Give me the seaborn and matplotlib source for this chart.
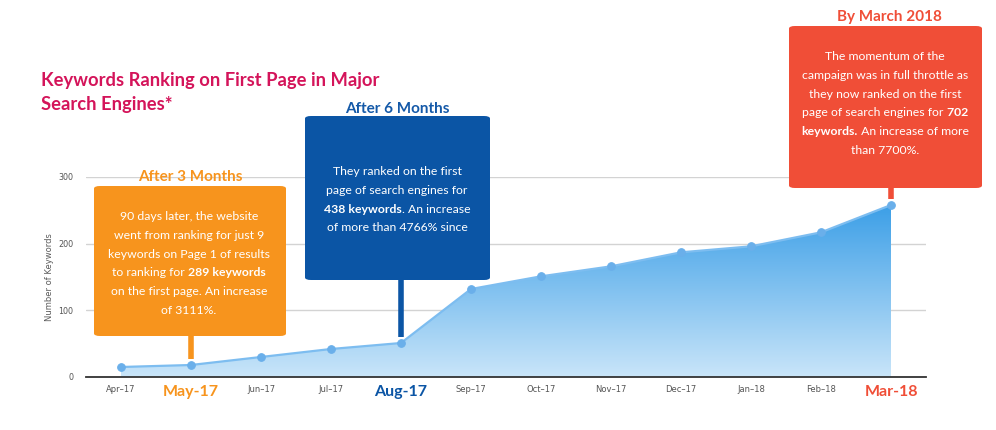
import numpy as np
import pandas as pd
import matplotlib
matplotlib.use("Agg")
import matplotlib.pyplot as plt
import seaborn as sns
from matplotlib.patches import FancyBboxPatch
from matplotlib.colors import LinearSegmentedColormap

# ---- data ----
months = ["Apr–17", "May–17", "Jun–17", "Jul–17", "Aug–17", "Sep–17",
          "Oct–17", "Nov–17", "Dec–17", "Jan–18", "Feb–18", "Mar–18"]
keywords = [15, 18, 30, 42, 51, 132, 151, 166, 187, 196, 217, 258]
yticks = [0, 100, 200, 300]

# highlighted months (tick label text, colour)
highlight_idx = [1, 4, 11]
highlight_text = ["May-17", "Aug-17", "Mar-18"]
highlight_color = ["#F7941D", "#0B55A5", "#F04E37"]

# callout titles and body text: each line is a list of (text, bold) pieces
callout_titles = ["After 3 Months", "After 6 Months", "By March 2018"]
callout_title_color = ["#F7941D", "#1459A8", "#F04E37"]
callout_lines = [
    [[("90 days later, the website", False)],
     [("went from ranking for just 9", False)],
     [("keywords on Page 1 of results", False)],
     [("to ranking for", False), (" 289 keywords", True)],
     [("on the first page. An increase", False)],
     [("of 3111%.", False)]],
    [[("They ranked on the first", False)],
     [("page of search engines for", False)],
     [("438 keywords", True), (". An increase", False)],
     [("of more than 4766% since", False)]],
    [[("The momentum of the", False)],
     [("campaign was in full throttle as", False)],
     [("they now ranked on the first", False)],
     [("page of search engines for", False), (" 702", True)],
     [("keywords.", True), (" An increase of more", False)],
     [("than 7700%.", False)]],
]

W, H = 996, 430

sns.set_theme(style="white")
plt.rcParams["font.family"] = ["DejaVu Sans"]

fig = plt.figure(figsize=(W / 100, H / 100), dpi=100)
fig.patch.set_facecolor("white")
ax = fig.add_axes([86 / W, 53 / H, 840 / W, 200 / H])

df = pd.DataFrame({"x": np.arange(len(months)), "keywords": keywords})

# gradient area under the line
ax.set_xlim(-0.5, len(months) - 0.5)
ax.set_ylim(0, 300)
poly = ax.fill_between(df["x"], df["keywords"], 0, color="none", lw=0)
grad = LinearSegmentedColormap.from_list("g", ["#C9E5F9", "#3C9FE7"])
img = ax.imshow(np.linspace(0, 1, 256).reshape(-1, 1), cmap=grad,
                origin="lower", aspect="auto",
                extent=[df["x"].min(), df["x"].max(), 0, max(keywords)],
                zorder=1)
img.set_clip_path(poly.get_paths()[0], transform=ax.transData)
ax.set_xlim(-0.5, len(months) - 0.5)
ax.set_ylim(0, 300)

sns.lineplot(data=df, x="x", y="keywords", ax=ax, color="#7DBDF0",
             linewidth=1.6, marker="o", markersize=5.5,
             markerfacecolor="#6AAFEA", markeredgecolor="#6AAFEA", zorder=3)

# axes styling
for side in ["left", "right", "top"]:
    ax.spines[side].set_visible(False)
ax.spines["bottom"].set_color("#333333")
ax.spines["bottom"].set_linewidth(1.3)
ax.set_yticks(yticks)
ax.yaxis.grid(True, color="#D3D3D3", linewidth=1)
ax.xaxis.grid(False)
ax.set_axisbelow(True)
ax.tick_params(axis="y", length=0, labelsize=5.8, labelcolor="#555555", pad=9)
ax.set_ylabel("Number of Keywords", fontsize=6, color="#5A5A5A", labelpad=3)
ax.set_xlabel("")

ax.set_xticks(df["x"])
ax.set_xticklabels(months)
ax.set_xticks(np.arange(-0.5, len(months) - 0.5, 1), minor=True)
ax.tick_params(axis="x", which="major", length=0, labelsize=6,
               labelcolor="#555555", pad=6)
ax.tick_params(axis="x", which="minor", length=6, width=1, color="#C9D3DD",
               direction="out")
labels = ax.get_xticklabels()
for i, txt, col in zip(highlight_idx, highlight_text, highlight_color):
    labels[i].set_text(txt)
    labels[i].set_color(col)
    labels[i].set_fontsize(11.5)
    labels[i].set_fontweight("bold")
    labels[i].set_fontfamily("Lato")
ax.set_xticklabels(labels)


def fx(px):
    return px / W


def fy(py):
    return 1 - py / H


# title
fig.text(fx(41), fy(86), "Keywords Ranking on First Page in Major",
         fontsize=13.2, fontweight="bold", color="#D4145A", family="Lato",
         va="baseline")
fig.text(fx(41), fy(110), "Search Engines*", fontsize=13.2, fontweight="bold",
         color="#D4145A", family="Lato", va="baseline")

# callouts: box rectangles (left, top, width, height) in pixels
box_rects = [(94, 186, 192, 150), (305, 116, 185, 164), (789, 26, 193, 162)]
box_colors = ["#F7941D", "#0B55A5", "#F04E37"]
title_pos = [(190, 181), (397, 113), (889, 21)]
text_center = [189, 397, 885]
first_line = [220, 175, 60]
line_step = 18.8

fig.canvas.draw()
renderer = fig.canvas.get_renderer()

for k in range(3):
    left, top, bw, bh = box_rects[k]
    col = box_colors[k]
    fig.add_artist(FancyBboxPatch((fx(left), fy(top + bh)), bw / W, bh / H,
                                  boxstyle="round,pad=0,rounding_size=0.006",
                                  transform=fig.transFigure, facecolor=col,
                                  edgecolor="none", zorder=5))
    # connector from the box down to its data point
    i = highlight_idx[k]
    px, py = ax.transData.transform((df["x"][i], keywords[i]))
    py_top = H - py
    fig.add_artist(plt.Line2D([fx(px), fx(px)], [fy(top + bh), fy(py_top - 6)],
                              transform=fig.transFigure, color=col,
                              linewidth=4, solid_capstyle="butt", zorder=4))
    # title above the box
    tx, ty = title_pos[k]
    fig.text(fx(tx), fy(ty), callout_titles[k], ha="center", va="baseline",
             fontsize=11, fontweight="bold", color=callout_title_color[k],
             family="Lato", zorder=6)
    # body text, line by line with mixed bold pieces
    for j, pieces in enumerate(callout_lines[k]):
        base = fy(first_line[k] + j * line_step)
        arts, widths = [], []
        for s, bold in pieces:
            t = fig.text(0, base, s, ha="left", va="baseline", fontsize=8.8,
                         fontweight="bold" if bold else "normal",
                         color="white", family="Lato", zorder=6)
            arts.append(t)
            widths.append(t.get_window_extent(renderer).width)
        x0 = text_center[k] - sum(widths) / 2
        for t, w in zip(arts, widths):
            t.set_x(fx(x0))
            x0 += w

fig.savefig("out.png", dpi=100, facecolor="white")
